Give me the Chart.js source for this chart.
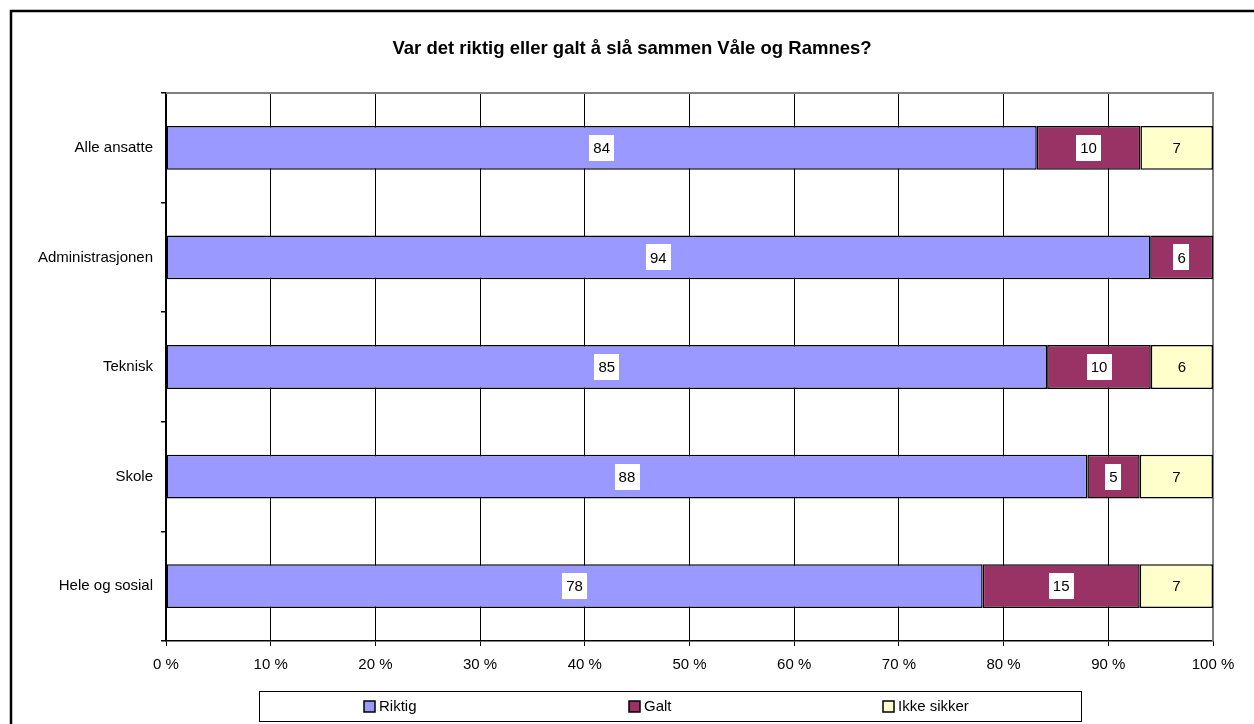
<!DOCTYPE html>
<html><head><meta charset="utf-8">
<script src="https://cdn.jsdelivr.net/npm/chart.js@4/dist/chart.umd.min.js"></script>
<style>html,body{margin:0;padding:0;background:#fff;overflow:hidden}#wrap{position:relative;width:1254px;height:724px}</style>
</head><body><div id="wrap"><canvas id="c" width="1254" height="724"></canvas></div>
<script>
const chartTitle = 'Var det riktig eller galt å slå sammen Våle og Ramnes?';
const categories = ['Alle ansatte', 'Administrasjonen', 'Teknisk', 'Skole', 'Hele og sosial'];
const seriesNames = ['Riktig', 'Galt', 'Ikke sikker'];
const riktig = [84, 94, 85, 88, 78];
const galt = [10, 6, 10, 5, 15];
const ikkeSikker = [7, null, 6, 7, 7];
const xTickLabels = ['0 %', '10 %', '20 %', '30 %', '40 %', '50 %', '60 %', '70 %', '80 %', '90 %', '100 %'];
const seriesColors = ['#9999FF', '#993366', '#FFFFCC'];

const FONT = "'Liberation Sans', Arial, sans-serif";
const raw = [riktig, galt, ikkeSikker];
const totals = categories.map((_, i) => raw.reduce((s, arr) => s + (arr[i] || 0), 0));
const pct = raw.map(arr => arr.map((v, i) => v == null ? null : v / totals[i] * 100));

const datasets = seriesNames.map((name, k) => ({
  label: name,
  data: pct[k],
  rawValues: raw[k],
  backgroundColor: seriesColors[k],
  borderColor: '#000',
  borderWidth: 1.5,
  borderSkipped: false,
  categoryPercentage: 1,
  barPercentage: 0.4
}));

const decor = {
  id: 'decor',
  beforeDatasetsDraw(chart) {
    const ctx = chart.ctx, a = chart.chartArea;
    ctx.save();
    ctx.strokeStyle = '#808080';
    ctx.lineWidth = 2;
    ctx.beginPath();
    ctx.moveTo(a.left, a.top);
    ctx.lineTo(a.right, a.top);
    ctx.lineTo(a.right, a.bottom);
    ctx.stroke();
    ctx.restore();
  },
  afterDatasetsDraw(chart) {
    const ctx = chart.ctx;
    ctx.save();
    ctx.font = '15px ' + FONT;
    ctx.textAlign = 'center';
    ctx.textBaseline = 'middle';
    chart.data.datasets.forEach((ds, k) => {
      const meta = chart.getDatasetMeta(k);
      meta.data.forEach((el, i) => {
        const v = ds.rawValues[i];
        if (v == null) return;
        const p = el.getProps(['x', 'y', 'base'], true);
        const cx = (p.x + p.base) / 2;
        const txt = String(v);
        const tw = ctx.measureText(txt).width;
        if (k < 2) {
          ctx.fillStyle = '#fff';
          ctx.fillRect(Math.round(cx - tw / 2 - 4), Math.round(p.y - 13), Math.round(tw + 8), 26);
        }
        ctx.fillStyle = '#000';
        ctx.fillText(txt, cx, p.y + 1);
      });
    });
    ctx.restore();
  },
  afterDraw(chart) {
    const ctx = chart.ctx;
    ctx.save();
    // title
    ctx.font = 'bold 18.5px ' + FONT;
    ctx.fillStyle = '#000';
    ctx.textAlign = 'center';
    ctx.textBaseline = 'middle';
    ctx.fillText(chartTitle, 632, 49);
    // legend
    ctx.strokeStyle = '#000';
    ctx.lineWidth = 1;
    ctx.strokeRect(259.5, 691.5, 822, 30);
    const itemX = [364, 629, 883];
    ctx.font = '15px ' + FONT;
    ctx.textAlign = 'left';
    seriesNames.forEach((n, k) => {
      ctx.fillStyle = seriesColors[k];
      ctx.fillRect(itemX[k], 701, 11, 11);
      ctx.strokeStyle = '#000';
      ctx.lineWidth = 1.5;
      ctx.strokeRect(itemX[k], 701, 11, 11);
      ctx.fillStyle = '#000';
      ctx.fillText(n, itemX[k] + 15, 707);
    });
    // frame
    ctx.lineWidth = 2.5;
    ctx.strokeStyle = '#000';
    ctx.strokeRect(11, 11, 1400, 900);
    ctx.restore();
  }
};

new Chart(document.getElementById('c'), {
  type: 'bar',
  data: { labels: categories, datasets },
  options: {
    indexAxis: 'y',
    responsive: false,
    animation: false,
    devicePixelRatio: 1,
    layout: { padding: { left: 0, top: 93, right: 41, bottom: 0 } },
    plugins: { legend: { display: false }, title: { display: false }, tooltip: { enabled: false } },
    scales: {
      x: {
        stacked: true, min: 0, max: 100,
        ticks: { stepSize: 10, color: '#000', font: { family: FONT, size: 15 }, padding: 10,
                 maxRotation: 0, autoSkip: false,
                 callback: (v, i) => xTickLabels[i] },
        grid: { color: '#000', lineWidth: 1, tickLength: 5, drawTicks: true },
        border: { color: '#000', width: 1.5 },
        afterFit: s => { s.height = 83; }
      },
      y: {
        stacked: true,
        ticks: { color: '#000', font: { family: FONT, size: 15 }, padding: 8 },
        grid: { drawOnChartArea: false, offset: true, tickLength: 5, color: '#000', lineWidth: 1.5 },
        border: { color: '#000', width: 1.5 },
        afterFit: s => { s.width = 166; }
      }
    }
  },
  plugins: [decor]
});
</script></body></html>
